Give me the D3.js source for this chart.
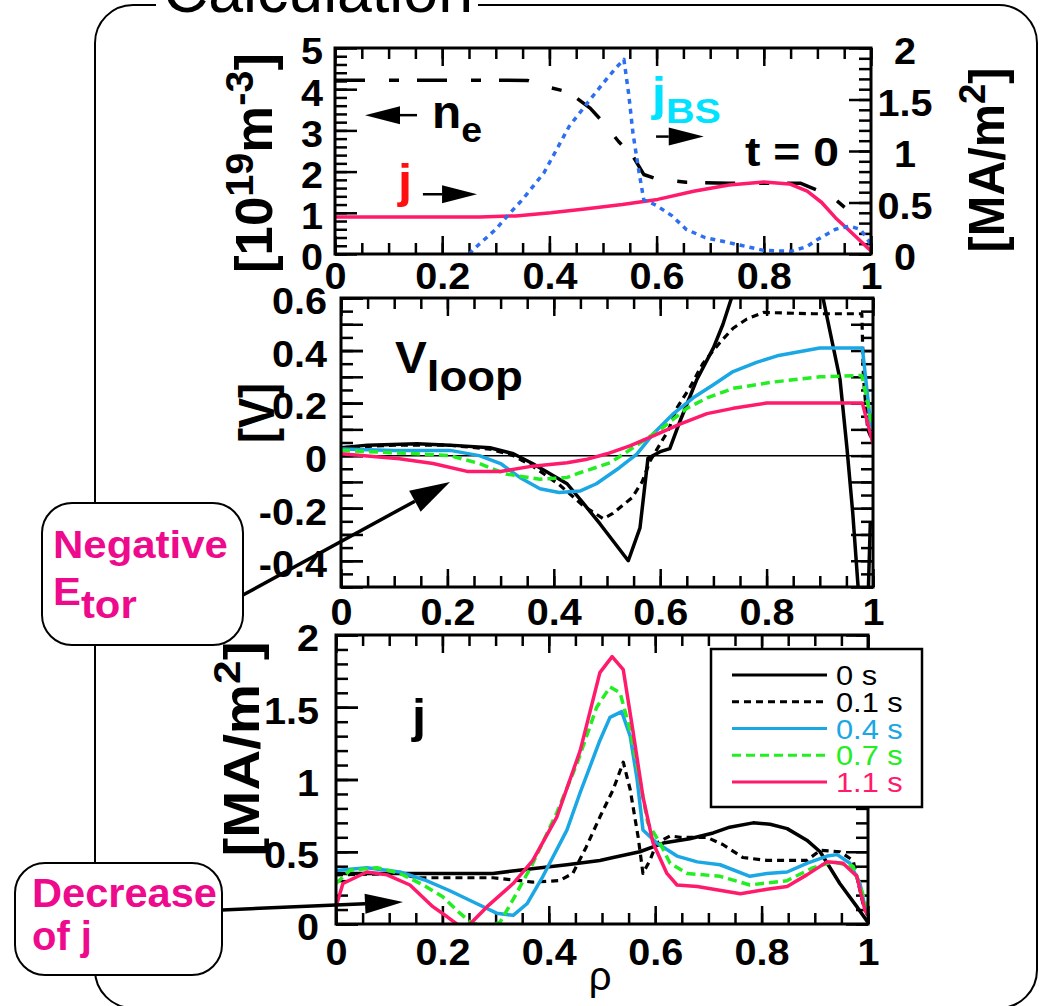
<!DOCTYPE html>
<html>
<head>
<meta charset="utf-8">
<script src="https://cdn.jsdelivr.net/npm/d3@7"></script>
<style>
  body { margin: 0; background: #fff; }
  svg { display: block; font-family: "Liberation Sans", Arial, Helvetica, sans-serif; }
</style>
</head>
<body>
<svg id="chart" width="1041" height="1006"></svg>
<script>
// ---- t = 0 profiles (top panel) : [rho, value]
var neProfile = [[0,4.22],[0.1,4.22],[0.2,4.22],[0.3,4.22],[0.36,4.21],[0.397,4.05],[0.43,3.95],[0.446,3.83],
  [0.476,3.54],[0.5,3.2],[0.529,2.73],[0.556,2.37],[0.576,1.93],[0.6,1.82],[0.655,1.74],[0.735,1.72],
  [0.868,1.72],[0.898,1.56],[0.934,1.32],[0.967,0.95]];
var jProfile0 = [[0,0.36],[0.1,0.36],[0.2,0.36],[0.27,0.36],[0.337,0.37],[0.403,0.4],[0.47,0.44],[0.536,0.48],
  [0.602,0.53],[0.669,0.61],[0.735,0.67],[0.8,0.7],[0.848,0.68],[0.881,0.61],[0.908,0.5],[0.934,0.35],
  [0.961,0.22],[1,0.03]];
var jbsProfile = [[0.25,0],[0.27,0.1],[0.3,0.24],[0.325,0.39],[0.35,0.53],[0.39,0.79],[0.437,1.24],[0.476,1.5],
  [0.51,1.72],[0.523,1.8],[0.539,1.89],[0.548,1.55],[0.556,1.17],[0.567,0.8],[0.576,0.53],[0.6,0.47],
  [0.629,0.37],[0.655,0.24],[0.69,0.16],[0.735,0.11],[0.8,0.035],[0.85,0.026],[0.88,0.07],[0.9,0.14],
  [0.934,0.24],[0.96,0.27],[0.98,0.24],[0.994,0.14],[1,0.08]];

// ---- loop voltage [V]
var vloop0 = [[0,0.03],[0.05,0.04],[0.143,0.045],[0.205,0.04],[0.28,0.03],[0.324,0.007],[0.36,-0.03],
  [0.425,-0.107],[0.455,-0.18],[0.487,-0.26],[0.54,-0.4],[0.562,-0.275],[0.577,-0.01],[0.6,0.015],
  [0.618,0.027],[0.637,0.13],[0.669,0.29],[0.7,0.41],[0.718,0.5],[0.734,0.6],[0.76,0.8],[0.8,1.1],
  [0.87,1.1],[0.9,0.7],[0.906,0.6],[0.938,0.29],[0.951,0.03],[0.962,-0.22],[0.972,-0.5],[0.98,-0.7],
  [0.99,-0.6],[0.995,-0.25]];
var vloop01 = [[0,0.03],[0.1,0.04],[0.2,0.04],[0.28,0.025],[0.324,0],[0.36,-0.04],[0.41,-0.11],[0.455,-0.19],
  [0.493,-0.24],[0.511,-0.22],[0.547,-0.16],[0.566,-0.1],[0.581,-0.02],[0.6,0.045],[0.615,0.095],
  [0.631,0.18],[0.656,0.26],[0.68,0.35],[0.712,0.43],[0.737,0.485],[0.763,0.52],[0.794,0.545],
  [0.887,0.54],[0.979,0.54],[0.982,0.3],[0.99,0.1],[1,0.05]];
var vloop04 = [[0,0.025],[0.1,0.02],[0.205,0.02],[0.26,0],[0.3,-0.03],[0.336,-0.083],[0.374,-0.126],
  [0.41,-0.14],[0.449,-0.135],[0.48,-0.107],[0.524,-0.045],[0.556,0.006],[0.587,0.083],[0.625,0.16],
  [0.662,0.22],[0.7,0.27],[0.737,0.32],[0.781,0.355],[0.82,0.38],[0.9,0.41],[0.98,0.41],[0.995,0.13],[1,0.1]];
var vloop07 = [[0,0.02],[0.11,0.01],[0.205,0],[0.26,-0.03],[0.31,-0.07],[0.374,-0.09],[0.425,-0.083],
  [0.449,-0.065],[0.487,-0.04],[0.506,-0.027],[0.549,0.03],[0.605,0.107],[0.65,0.18],[0.688,0.22],
  [0.737,0.256],[0.812,0.28],[0.9,0.3],[0.979,0.305],[0.99,0.2],[1,0.1]];
var vloop11 = [[0,0.007],[0.11,-0.012],[0.173,-0.03],[0.237,-0.06],[0.3,-0.06],[0.36,-0.04],[0.425,-0.027],
  [0.46,-0.015],[0.5,0.007],[0.543,0.037],[0.587,0.075],[0.637,0.12],[0.688,0.16],[0.737,0.18],
  [0.8,0.2],[0.98,0.2],[0.993,0.1],[1,0.045]];

// ---- current density [MA/m2]
var j00 = [[0,0.35],[0.12,0.35],[0.295,0.35],[0.34,0.37],[0.434,0.41],[0.496,0.44],[0.521,0.46],[0.571,0.5],
  [0.615,0.56],[0.665,0.59],[0.709,0.63],[0.74,0.67],[0.784,0.7],[0.816,0.69],[0.848,0.66],[0.885,0.58],
  [0.91,0.5],[0.947,0.28],[0.979,0.12],[1,0.01]];
var j01 = [[0,0.34],[0.12,0.35],[0.152,0.32],[0.295,0.32],[0.37,0.29],[0.42,0.3],[0.445,0.35],[0.47,0.53],
  [0.496,0.74],[0.521,0.93],[0.54,1.12],[0.553,0.93],[0.568,0.6],[0.577,0.35],[0.59,0.44],[0.603,0.56],
  [0.628,0.61],[0.647,0.6],[0.697,0.6],[0.727,0.55],[0.765,0.46],[0.81,0.44],[0.885,0.44],[0.91,0.51],
  [0.947,0.5],[0.972,0.44],[0.99,0.15],[1,0.05]];
var j04 = [[0,0.37],[0.058,0.39],[0.12,0.36],[0.17,0.3],[0.214,0.23],[0.265,0.14],[0.302,0.075],[0.333,0.06],
  [0.359,0.14],[0.389,0.33],[0.434,0.65],[0.459,0.91],[0.496,1.27],[0.515,1.43],[0.537,1.47],[0.553,1.3],
  [0.566,1],[0.577,0.65],[0.603,0.56],[0.641,0.47],[0.679,0.43],[0.722,0.41],[0.778,0.33],[0.81,0.35],
  [0.848,0.36],[0.885,0.42],[0.923,0.47],[0.942,0.48],[0.966,0.42],[0.985,0.28],[0.994,0.12],[1,0.06]];
var j07 = [[0,0.28],[0.026,0.37],[0.077,0.39],[0.12,0.35],[0.164,0.27],[0.2,0.19],[0.233,0.075],[0.252,0.015],
  [0.28,-0.02],[0.308,0.01],[0.333,0.17],[0.37,0.42],[0.415,0.77],[0.453,1.11],[0.49,1.5],[0.515,1.64],
  [0.534,1.6],[0.553,1.34],[0.571,1],[0.586,0.7],[0.609,0.56],[0.628,0.42],[0.66,0.35],[0.722,0.33],
  [0.778,0.27],[0.848,0.3],[0.897,0.39],[0.934,0.43],[0.972,0.4],[0.99,0.21],[1,0.08]];
var j11 = [[0,0.12],[0.013,0.28],[0.058,0.36],[0.096,0.34],[0.139,0.27],[0.182,0.12],[0.209,0.05],[0.227,0],
  [0.24,-0.03],[0.252,0],[0.284,0.12],[0.333,0.28],[0.37,0.44],[0.415,0.74],[0.459,1.2],[0.496,1.74],
  [0.519,1.85],[0.54,1.76],[0.558,1.34],[0.577,0.88],[0.596,0.56],[0.622,0.35],[0.641,0.27],[0.679,0.26],
  [0.76,0.21],[0.81,0.24],[0.848,0.26],[0.885,0.34],[0.923,0.43],[0.953,0.42],[0.979,0.33],[0.994,0.1],[1,0.06]];

// ---- tick labels
var rhoTicks = [0, 0.2, 0.4, 0.6, 0.8, 1];
var neTicks = [0, 1, 2, 3, 4, 5];
var jTopTicks = [0, 0.5, 1, 1.5, 2];
var vTicks = [-0.4, -0.2, 0, 0.2, 0.4, 0.6];
var jTicks = [0, 0.5, 1, 1.5, 2];
var times = ['0 s', '0.1 s', '0.4 s', '0.7 s', '1.1 s'];

var PINK = '#ff1a6c', BLUE = '#1aa7e4', GREEN = '#22ee22', MAGENTA = '#ee0a8c';
var SX = 1.07;   // the lettering in this figure runs wide

var svg = d3.select('#chart');
var fmt = d => String(+d.toFixed(2));

// text block, optionally stretched to a given length along its baseline
function txt(parent, x, y, spans, o) {
  var g = parent.append('g');
  var t = g.append('text')
    .attr('text-anchor', o.anchor || 'start')
    .attr('font-weight', o.weight || 'bold')
    .attr('font-size', o.size)
    .attr('fill', o.fill || '#000');
  spans.forEach(s => {
    t.append('tspan').text(s[0])
      .attr('font-size', s[1] || null)
      .attr('dy', s[2] || null);
  });
  var along = o.sx || 1;
  if (o.len) along = o.len / t.node().getBBox().width;
  g.attr('transform', `translate(${x},${y})` + (o.rotate ? ` rotate(${o.rotate})` : '') +
    ` scale(${along},${o.sy || 1})`);
  return g;
}

function arrow(parent, x1, y1, x2, y2, lw, hl, hw) {
  var a = Math.atan2(y2 - y1, x2 - x1);
  var bx = x2 - hl * Math.cos(a), by = y2 - hl * Math.sin(a);
  parent.append('line')
    .attr('x1', x1).attr('y1', y1).attr('x2', bx).attr('y2', by)
    .attr('stroke', '#000').attr('stroke-width', lw);
  parent.append('path')
    .attr('d', `M${x2},${y2}L${bx + hw * Math.sin(a)},${by - hw * Math.cos(a)}` +
      `L${bx - hw * Math.sin(a)},${by + hw * Math.cos(a)}Z`)
    .attr('fill', '#000');
}

// one set of inward ticks, with labels if a format is given
function ticks(g, axisFn, scale, values, len, pos, o) {
  o = o || {};
  var ax = axisFn(scale).tickValues(values).tickSize(-len)
    .tickPadding(0).tickFormat(o.format || '');
  var sel = g.append('g').attr('transform', pos).call(ax);
  sel.select('.domain').remove();
  sel.selectAll('line').attr('stroke', '#000').attr('stroke-width', 2.5);
  if (!o.format) {
    sel.selectAll('text').remove();
    return sel;
  }
  var tx = sel.selectAll('text')
    .attr('font-size', 37).attr('font-weight', 'bold')
    .attr('fill', '#000').attr('transform', `scale(${SX},1)`);
  sel.attr('font-family', null);
  if (o.side === 'bottom') tx.attr('y', o.pad).attr('dy', '0.72em');
  if (o.side === 'left') tx.attr('x', -o.pad / SX).attr('y', 4);
  if (o.side === 'right') tx.attr('x', o.pad / SX).attr('y', 4).attr('text-anchor', 'middle');
  return sel;
}

function panel(id, box, yDomain) {
  var g = svg.append('g');
  var x = d3.scaleLinear().domain([0, 1]).range([box.left, box.right]);
  var y = d3.scaleLinear().domain(yDomain).range([box.bottom, box.top]);
  g.append('clipPath').attr('id', id)
    .append('rect')
    .attr('x', box.left).attr('y', box.top)
    .attr('width', box.right - box.left).attr('height', box.bottom - box.top);
  var minorRho = d3.range(0, 1.001, 0.05);
  ticks(g, d3.axisBottom, x, minorRho, 11, `translate(0,${box.bottom})`);
  ticks(g, d3.axisTop, x, minorRho, 11, `translate(0,${box.top})`);
  ticks(g, d3.axisBottom, x, rhoTicks, 18, `translate(0,${box.bottom})`,
    {format: fmt, side: 'bottom', pad: box.xPad});
  ticks(g, d3.axisTop, x, rhoTicks, 18, `translate(0,${box.top})`);
  return {g: g, x: x, y: y, box: box, clip: `url(#${id})`};
}

function frame(p) {
  p.g.append('rect')
    .attr('x', p.box.left).attr('y', p.box.top)
    .attr('width', p.box.right - p.box.left).attr('height', p.box.bottom - p.box.top)
    .attr('fill', 'none').attr('stroke', '#000').attr('stroke-width', 3);
}

function curve(p, data, y, color, dash, lw) {
  var line = d3.line().x(d => p.x(d[0])).y(d => y(d[1]));
  p.g.append('path')
    .datum(data)
    .attr('clip-path', p.clip)
    .attr('d', line)
    .attr('fill', 'none')
    .attr('stroke', color)
    .attr('stroke-width', lw || 3.5)
    .attr('stroke-linejoin', 'round')
    .attr('stroke-dasharray', dash || null);
}

/*
 * Outer frame with its heading
 */
var F = {l: 95, r: 1037, t: 5, b: 1008, rad: 38, gap0: 156, gap1: 478};
svg.append('path')
  .attr('d', `M${F.gap1},${F.t}H${F.r - F.rad}A${F.rad},${F.rad} 0 0 1 ${F.r},${F.t + F.rad}` +
    `V${F.b - F.rad}A${F.rad},${F.rad} 0 0 1 ${F.r - F.rad},${F.b}H${F.l + F.rad}` +
    `A${F.rad},${F.rad} 0 0 1 ${F.l},${F.b - F.rad}V${F.t + F.rad}` +
    `A${F.rad},${F.rad} 0 0 1 ${F.l + F.rad},${F.t}H${F.gap0}`)
  .attr('fill', 'none').attr('stroke', '#000').attr('stroke-width', 2);
txt(svg, 163, 12, [['Calculation']], {size: 62, weight: 'normal', len: 310});

/*
 * Top: n_e, j and j_BS at t = 0
 */
var pTop = panel('clip-top', {left: 335, right: 871, top: 48, bottom: 254, xPad: 8}, [0, 5]);
var yR = d3.scaleLinear().domain([0, 2]).range([254, 48]);
ticks(pTop.g, d3.axisLeft, pTop.y, d3.range(0, 5.001, 0.2), 12, `translate(${pTop.box.left},0)`);
ticks(pTop.g, d3.axisLeft, pTop.y, neTicks, 22, `translate(${pTop.box.left},0)`,
  {format: fmt, side: 'left', pad: 12});
ticks(pTop.g, d3.axisRight, yR, d3.range(0, 2.001, 0.1), 12, `translate(${pTop.box.right},0)`);
ticks(pTop.g, d3.axisRight, yR, jTopTicks, 22, `translate(${pTop.box.right},0)`,
  {format: fmt, side: 'right', pad: 34});
curve(pTop, neProfile, pTop.y, '#000', '30,24,10,18', 3.5);
curve(pTop, jProfile0, yR, PINK, null, 3.5);
curve(pTop, jbsProfile, yR, '#2d6ff0', '5,5', 3.5);
frame(pTop);

arrow(pTop.g, pTop.x(0.153), pTop.y(3.37), pTop.x(0.056), pTop.y(3.37), 2.5, 35, 9);
arrow(pTop.g, pTop.x(0.164), yR(0.58), pTop.x(0.265), yR(0.58), 2.5, 35, 9);
arrow(pTop.g, pTop.x(0.599), yR(1.14), pTop.x(0.688), yR(1.14), 2.5, 35, 9);
txt(pTop.g, 432, 128, [['n'], ['e', 36, 14]], {size: 46, len: 50});
txt(pTop.g, 398, 197, [['j']], {size: 46, fill: '#ff1010', sx: 1.1});
txt(pTop.g, 652, 110, [['j'], ['BS', 36, 13]], {size: 46, fill: '#00e2ff', len: 70});
txt(pTop.g, 745, 166, [['t = 0']], {size: 40, len: 94});
txt(svg, 272, 163, [['[10'], ['19', 30, -15], ['m', null, 15], ['-3', 30, -15], [']', null, 15]],
  {size: 40, rotate: -90, anchor: 'middle', len: 220, sy: 1.3});
txt(svg, 1004, 160, [['[MA/m'], ['2', 30, -15], [']', null, 15]],
  {size: 40, rotate: -90, anchor: 'middle', len: 185, sy: 1.25});

/*
 * Middle: loop voltage
 */
var pMid = panel('clip-mid', {left: 341, right: 873, top: 298, bottom: 587, xPad: 11}, [-0.5, 0.6]);
[['axisLeft', 'left'], ['axisRight', 'right']].forEach(s => {
  var pos = `translate(${s[1] === 'left' ? pMid.box.left : pMid.box.right},0)`;
  ticks(pMid.g, d3[s[0]], pMid.y, d3.range(-0.5, 0.601, 0.05), 12, pos);
  ticks(pMid.g, d3[s[0]], pMid.y, d3.range(-0.5, 0.601, 0.1), 22, pos);
});
ticks(pMid.g, d3.axisLeft, pMid.y, vTicks, 22, `translate(${pMid.box.left},0)`,
  {format: fmt, side: 'left', pad: 14});
pMid.g.append('line')
  .attr('x1', pMid.box.left).attr('x2', pMid.box.right)
  .attr('y1', pMid.y(0)).attr('y2', pMid.y(0))
  .attr('stroke', '#000').attr('stroke-width', 1.5);
curve(pMid, vloop0, pMid.y, '#000', null, 3.5);
curve(pMid, vloop01, pMid.y, '#000', '7,5', 3.2);
curve(pMid, vloop04, pMid.y, BLUE, null, 3.5);
curve(pMid, vloop07, pMid.y, GREEN, '9,5', 3.5);
curve(pMid, vloop11, pMid.y, PINK, null, 3.5);
frame(pMid);
txt(pMid.g, 395, 373, [['V'], ['loop', 42, 18]], {size: 44, len: 128});
txt(svg, 274, 413, [['[V]']], {size: 40, rotate: -90, anchor: 'middle', len: 60, sy: 1.25});

/*
 * Bottom: current density
 */
var pBot = panel('clip-bot', {left: 336, right: 868, top: 635, bottom: 924, xPad: 14}, [0, 2]);
[['axisLeft', 'left'], ['axisRight', 'right']].forEach(s => {
  var pos = `translate(${s[1] === 'left' ? pBot.box.left : pBot.box.right},0)`;
  ticks(pBot.g, d3[s[0]], pBot.y, d3.range(0, 2.001, 0.1), 12, pos);
  ticks(pBot.g, d3[s[0]], pBot.y, jTicks, 22, pos);
});
ticks(pBot.g, d3.axisLeft, pBot.y, jTicks, 22, `translate(${pBot.box.left},0)`,
  {format: fmt, side: 'left', pad: 17});
var series = [
  {data: j00, color: '#000', dash: null, lw: 3.5},
  {data: j01, color: '#000', dash: '7,5', lw: 3.2},
  {data: j04, color: BLUE, dash: null, lw: 3.5},
  {data: j07, color: GREEN, dash: '9,5', lw: 3.5},
  {data: j11, color: PINK, dash: null, lw: 3.5}
];
series.forEach(s => curve(pBot, s.data, pBot.y, s.color, s.dash, s.lw));
frame(pBot);
txt(pBot.g, 412, 732, [['j']], {size: 46, sx: 1.1});
txt(svg, 600, 990, [['ρ']], {size: 40, weight: 'normal', anchor: 'middle'});
txt(svg, 259, 749, [['[MA/m'], ['2', 30, -15], [']', null, 15]],
  {size: 40, rotate: -90, anchor: 'middle', len: 215, sy: 1.25});

// legend
var legend = svg.append('g');
legend.append('rect')
  .attr('x', 711).attr('y', 649).attr('width', 211).attr('height', 158)
  .attr('fill', '#fff').attr('stroke', '#000').attr('stroke-width', 2.5);
var row = d3.scalePoint().domain(times).range([675, 782]);
times.forEach((t, i) => {
  var s = series[i];
  legend.append('line')
    .attr('x1', 732).attr('x2', 827).attr('y1', row(t)).attr('y2', row(t))
    .attr('stroke', s.color).attr('stroke-width', 3).attr('stroke-dasharray', s.dash);
  txt(legend, 836, row(t) + 10, [[t]], {size: 28, weight: 'normal', fill: s.color, sx: 1.1});
});

/*
 * Callouts
 */
function callout(x, y, w, h) {
  svg.append('rect')
    .attr('x', x).attr('y', y).attr('width', w).attr('height', h)
    .attr('rx', 30).attr('fill', '#fff').attr('stroke', '#000').attr('stroke-width', 2);
}
callout(42, 503, 201, 142);
txt(svg, 53, 558, [['Negative']], {size: 38, fill: MAGENTA, len: 175});
txt(svg, 53, 605, [['E'], ['tor', 38, 13]], {size: 38, fill: MAGENTA, len: 84});
arrow(svg, 243, 595, 450, 482, 3.5, 40, 12);

callout(15, 863, 207, 112);
txt(svg, 32, 907, [['Decrease']], {size: 40, fill: MAGENTA, len: 185});
txt(svg, 32, 950, [['of j']], {size: 40, fill: MAGENTA, len: 60});
arrow(svg, 222, 910, 403, 902, 3.5, 38, 10);
</script>
</body>
</html>
